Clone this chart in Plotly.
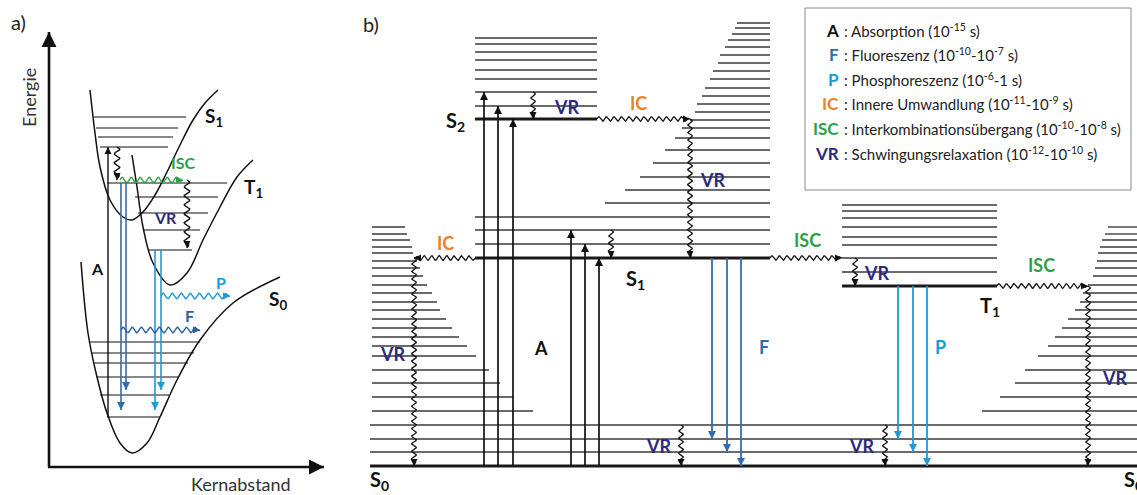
import math
import plotly.graph_objects as go

# ================= DATA =================
# energies measured upward from the S0 ground level (1 unit = 1 px), x = configuration position
# ---- panel b (Jablonski diagram) ----
E_S0, E_S1, E_S2, E_T1 = 0, 208, 347, 180

s0_levels = [14, 27, 41]
s0_hot_levels = [55, 69, 83, 96, 110, 120, 129, 138, 147, 156, 164, 173, 181, 190, 198, 205, 213, 219, 226, 232, 239]
s0_hot_left_end = [533, 513, 500, 489, 476, 467, 459, 452, 446, 440, 437, 432, 427, 423, 420, 417, 413, 412, 410, 407, 405]
s0_hot_right_start = [982, 1000, 1015, 1025, 1038, 1048, 1055, 1062, 1068, 1075, 1080, 1083, 1088, 1093, 1095, 1097, 1098, 1100, 1102, 1105, 1108]

s1_levels = [222, 236, 249]
s1_hot_levels = [263, 276, 289, 303, 316, 328, 338, 346, 354, 362, 370, 378, 387, 395, 403, 411, 419, 426, 432, 438, 443]
s1_hot_start = [605, 625, 640, 653, 665, 675, 682, 690, 695, 697, 702, 705, 710, 713, 718, 720, 725, 728, 732, 735, 737]
s2_levels = [360, 374, 387, 396, 406, 414, 422, 428]
t1_levels = [194, 208, 221, 229, 239, 248, 255, 261]

b_s0_span = [370, 1137]
b_s0_hot_left = 372
b_s1_span = [475, 770]
b_s2_span = [475, 597]
b_t1_span = [842, 997]

abs_x = [484, 498, 513, 571, 585, 599]
abs_to = [374, 360, 347, 236, 222, 208]
abs_from = [0, 0, 0, 0, 0, 0]
fl_x = [712, 727, 741]
fl_from = [208, 208, 208]
fl_to = [27, 14, 0]
ph_x = [898, 913, 927]
ph_from = [180, 180, 180]
ph_to = [27, 14, 0]

# non-radiative (wavy) transitions: kind, x0, E0, x1, E1
b_wavy = [
    ("VR", 533, 374, 533, 347),
    ("IC", 597, 347, 690, 347),
    ("VR", 690, 347, 690, 208),
    ("VR", 611, 236, 611, 208),
    ("IC", 475, 208, 414, 208),
    ("VR", 414, 208, 414, 0),
    ("ISC", 770, 208, 842, 208),
    ("VR", 855, 208, 855, 180),
    ("ISC", 997, 180, 1088, 180),
    ("VR", 1088, 180, 1088, 0),
    ("VR", 681, 41, 681, 0),
    ("VR", 885, 41, 885, 0),
]

# ---- panel a (potential curves) ----
a_s0_x = [81, 88, 97, 107, 120, 132, 147, 160, 177, 200, 233, 280]
a_s0_E = [204, 133, 89, 53, 23, 13, 23, 49, 86, 126, 163, 189]
a_s1_x = [90, 95, 100, 110, 123, 132, 143, 155, 167, 180, 193, 205, 218]
a_s1_E = [376, 333, 299, 266, 249, 246, 254, 271, 294, 321, 346, 363, 376]
a_t1_x = [132, 137, 143, 153, 170, 187, 203, 220, 237, 253]
a_t1_E = [311, 279, 239, 203, 181, 193, 226, 259, 289, 306]

a_s0_lv = [124, 113, 103, 89, 71, 49]
a_s0_lv_x0 = [89, 91, 93, 97, 100, 107]
a_s0_lv_x1 = [200, 194, 188, 178, 169, 160]
a_s1_lv = [349, 338, 329, 319]
a_s1_lv_x0 = [94, 96, 98, 100]
a_s1_lv_x1 = [186, 178, 173, 168]
a_t1_lv = [283, 269, 253, 236, 216]
a_t1_lv_x0 = [107, 135, 138, 143, 148]
a_t1_lv_x1 = [227, 218, 208, 200, 192]

a_abs = (108, 49, 319)
a_fl_x = [121, 126]
a_fl_from = 283
a_fl_to = [56, 76]
a_ph_x = [155, 161]
a_ph_from = 216
a_ph_to = [56, 76]
a_wavy = [
    ("VR", 117, 319, 117, 286),
    ("ISC", 120, 286, 183, 286),
    ("VR", 187, 286, 187, 218),
    ("F", 121, 136, 200, 136),
    ("P", 161, 170, 230, 170),
]

legend_keys = ["A", "F", "P", "IC", "ISC", "VR"]
legend_texts = [
    ": Absorption (10<sup>-15</sup> s)",
    ": Fluoreszenz (10<sup>-10</sup>-10<sup>-7</sup> s)",
    ": Phosphoreszenz (10<sup>-6</sup>-1 s)",
    ": Innere Umwandlung (10<sup>-11</sup>-10<sup>-9</sup> s)",
    ": Interkombinationsübergang (10<sup>-10</sup>-10<sup>-8</sup> s)",
    ": Schwingungsrelaxation (10<sup>-12</sup>-10<sup>-10</sup> s)",
]

# ================= STYLE =================
Y0 = 466
FONT = "Lato"
COL = {"A": "#111111", "F": "#2F6DB0", "P": "#1E9AD6", "IC": "#E8822C",
       "ISC": "#2FA04A", "VR": "#2E2A80"}
WAVY_COL_A = {"VR": "#111111", "ISC": "#2FA04A", "F": "#2F5FA0", "P": "#1E9AD6"}

fig = go.Figure()
heads = {}  # (color, size) -> lists


def segs(xs0, xs1, ys):
    X, Y = [], []
    for a, b, y in zip(xs0, xs1, ys):
        X += [a, b, None]
        Y += [y, y, None]
    return X, Y


def add_lines(X, Y, color, width):
    fig.add_trace(go.Scatter(x=X, y=Y, mode="lines", hoverinfo="skip",
                             line=dict(color=color, width=width)))


def head(x, y, dx, dy, color, size=8):
    if abs(dx) > abs(dy):
        sym = "arrow-right" if dx > 0 else "arrow-left"
    else:
        sym = "arrow-up" if dy > 0 else "arrow-down"
    g = heads.setdefault((color, size), ([], [], []))
    g[0].append(x); g[1].append(y); g[2].append(sym)


def arrow(x0, y0, x1, y1, color, width=1.6, size=8):
    add_lines([x0, x1], [y0, y1], color, width)
    head(x1, y1, x1 - x0, y1 - y0, color, size)


def wavy_pts(x0, y0, x1, y1, amp=2.2, wl=7.5):
    L = math.hypot(x1 - x0, y1 - y0)
    ux, uy = (x1 - x0) / L, (y1 - y0) / L
    px, py = -uy, ux
    n = max(int(L / wl * 10), 4)
    X, Y = [], []
    for i in range(n + 1):
        s = L * i / n
        taper = min(1.0, (L - s) / 5.0)
        w = amp * math.sin(2 * math.pi * s / wl) * taper
        X.append(x0 + ux * s + px * w)
        Y.append(y0 + uy * s + py * w)
    return X, Y, ux, uy


def txt(x, ypix, text, color="#111111", size=16, bold=False, angle=0, anchor="center"):
    if bold:
        text = "<b>" + text + "</b>"
    fig.add_annotation(x=x, y=Y0 - ypix, text=text, showarrow=False, xref="x", yref="y",
                       xanchor=anchor, yanchor="middle", textangle=angle,
                       font=dict(family=FONT, size=size, color=color))


# ================= PANEL b =================
X, Y = [], []
a_, b_ = segs([b_s0_span[0]] * len(s0_levels), [b_s0_span[1]] * len(s0_levels), s0_levels); X += a_; Y += b_
a_, b_ = segs([b_s0_hot_left] * len(s0_hot_levels), s0_hot_left_end, s0_hot_levels); X += a_; Y += b_
a_, b_ = segs(s0_hot_right_start, [b_s0_span[1]] * len(s0_hot_levels), s0_hot_levels); X += a_; Y += b_
a_, b_ = segs([b_s1_span[0]] * len(s1_levels), [b_s1_span[1]] * len(s1_levels), s1_levels); X += a_; Y += b_
a_, b_ = segs(s1_hot_start, [b_s1_span[1]] * len(s1_hot_levels), s1_hot_levels); X += a_; Y += b_
a_, b_ = segs([b_s2_span[0]] * len(s2_levels), [b_s2_span[1]] * len(s2_levels), s2_levels); X += a_; Y += b_
a_, b_ = segs([b_t1_span[0]] * len(t1_levels), [b_t1_span[1]] * len(t1_levels), t1_levels); X += a_; Y += b_
add_lines(X, Y, "#6a6a6a", 1.8)

X, Y = segs([b_s0_span[0], b_s1_span[0], b_s2_span[0], b_t1_span[0]],
            [b_s0_span[1], b_s1_span[1], b_s2_span[1], b_t1_span[1]],
            [E_S0, E_S1, E_S2, E_T1])
add_lines(X, Y, "#1a1a1a", 2.8)

for x, e0, e1 in zip(abs_x, abs_from, abs_to):
    arrow(x, e0, x, e1, "#111111", 1.7)
for x, e0, e1 in zip(fl_x, fl_from, fl_to):
    arrow(x, e0, x, e1, "#2F6DB0", 1.8)
for x, e0, e1 in zip(ph_x, ph_from, ph_to):
    arrow(x, e0, x, e1, "#1E9AD6", 1.8)

WX, WY = [], []
for kind, x0, y0, x1, y1 in b_wavy:
    xs, ys, ux, uy = wavy_pts(x0, y0, x1, y1, amp=2.3, wl=7.5)
    WX += xs + [None]
    WY += ys + [None]
    head(x1, y1, ux, uy, "#111111", 7)
add_lines(WX, WY, "#111111", 1.3)

# ================= PANEL a =================
for cx, cy in [(a_s0_x, a_s0_E), (a_s1_x, a_s1_E), (a_t1_x, a_t1_E)]:
    fig.add_trace(go.Scatter(x=cx, y=cy, mode="lines", hoverinfo="skip",
                             line=dict(color="#111111", width=1.5, shape="spline", smoothing=1.0)))
X, Y = [], []
for x0s, x1s, ys in [(a_s0_lv_x0, a_s0_lv_x1, a_s0_lv), (a_s1_lv_x0, a_s1_lv_x1, a_s1_lv),
                     (a_t1_lv_x0, a_t1_lv_x1, a_t1_lv)]:
    a_, b_ = segs(x0s, x1s, ys); X += a_; Y += b_
add_lines(X, Y, "#111111", 1.2)

# axes of panel a
arrow(49, -1, 49, 434, "#111111", 2.6, 15)
arrow(48, -1, 324, -1, "#111111", 2.6, 15)

arrow(a_abs[0], a_abs[1], a_abs[0], a_abs[2], "#111111", 1.4, 7)
for x, e1 in zip(a_fl_x, a_fl_to):
    arrow(x, a_fl_from, x, e1, "#2F6DB0", 1.6, 8)
for x, e1 in zip(a_ph_x, a_ph_to):
    arrow(x, a_ph_from, x, e1, "#1E9AD6", 1.6, 8)

groups = {}
for kind, x0, y0, x1, y1 in a_wavy:
    xs, ys, ux, uy = wavy_pts(x0, y0, x1, y1, amp=2.8, wl=9)
    c = WAVY_COL_A[kind]
    g = groups.setdefault(c, ([], []))
    g[0].extend(xs + [None]); g[1].extend(ys + [None])
    head(x1, y1, ux, uy, c, 7)
for c, (gx, gy) in groups.items():
    add_lines(gx, gy, c, 1.4)

# arrowheads
for (c, s), (hx, hy, hs) in heads.items():
    fig.add_trace(go.Scatter(x=hx, y=hy, mode="markers", hoverinfo="skip",
                             marker=dict(symbol=hs, size=s, color=c, line=dict(width=0))))

# ================= LABELS =================
txt(18, 22, "a)", size=20, color="#222222")
txt(371, 24, "b)", size=20, color="#222222")
txt(29, 98, "Energie", size=18, angle=-90, color="#333333")
txt(241, 484, "Kernabstand", size=18, color="#333333")

# panel a
txt(97, 268, "A", bold=True, size=16)
txt(183, 162, "ISC", COL["ISC"], 16, True)
txt(165, 217, "VR", COL["VR"], 16, True)
txt(221, 282, "P", COL["P"], 16, True)
txt(189, 315, "F", "#2F5FA0", 16, True)
txt(214, 117, "S<sub>1</sub>", size=19, bold=True)
txt(253, 188, "T<sub>1</sub>", size=19, bold=True)
txt(278, 300, "S<sub>0</sub>", size=19, bold=True)

# panel b
txt(455, 121, "S<sub>2</sub>", size=20, bold=True)
txt(635, 279, "S<sub>1</sub>", size=20, bold=True)
txt(990, 306, "T<sub>1</sub>", size=20, bold=True)
txt(379, 480, "S<sub>0</sub>", size=20, bold=True)
txt(1122, 480, "S<sub>0</sub>", size=20, bold=True, anchor="left")
txt(541, 348, "A", bold=True, size=18)
txt(764, 347, "F", COL["F"], 18, True)
txt(940, 347, "P", COL["P"], 18, True)
txt(567, 107, "VR", COL["VR"], 18, True)
txt(638, 103, "IC", COL["IC"], 18, True)
txt(713, 180, "VR", COL["VR"], 18, True)
txt(445, 243, "IC", COL["IC"], 18, True)
txt(393, 354, "VR", COL["VR"], 18, True)
txt(807, 240, "ISC", COL["ISC"], 18, True)
txt(877, 273, "VR", COL["VR"], 18, True)
txt(1041, 265, "ISC", COL["ISC"], 18, True)
txt(1115, 378, "VR", COL["VR"], 18, True)
txt(659, 446, "VR", COL["VR"], 18, True)
txt(862, 446, "VR", COL["VR"], 18, True)

# legend box
fig.add_shape(type="rect", x0=805, x1=1131, y0=Y0 - 190, y1=Y0 - 8, xref="x", yref="y",
              line=dict(color="#8a8a8a", width=1), fillcolor="rgba(0,0,0,0)")
for i, (k, t) in enumerate(zip(legend_keys, legend_texts)):
    yp = 30 + i * 24.6
    txt(841, yp, k, COL[k], 17, True, anchor="right")
    txt(842, yp, t, "#222222", 15, anchor="left")

fig.update_layout(
    width=1137, height=495, margin=dict(l=0, r=0, t=0, b=0),
    paper_bgcolor="white", plot_bgcolor="white", showlegend=False,
    font=dict(family=FONT),
    xaxis=dict(range=[0, 1137], visible=False, fixedrange=True),
    yaxis=dict(range=[Y0 - 495, Y0], visible=False, fixedrange=True),
)
fig.write_html("out.html")
